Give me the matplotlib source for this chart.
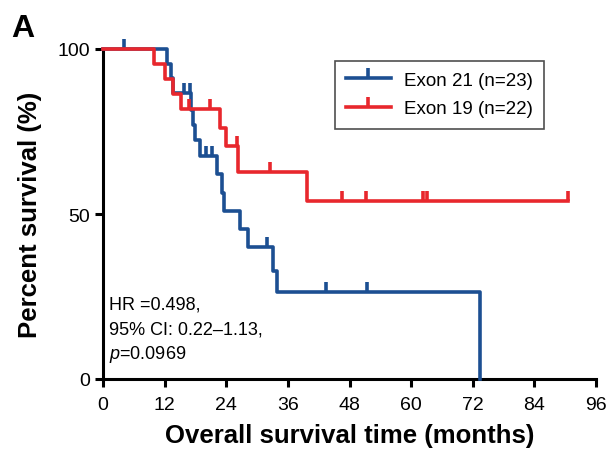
import matplotlib
matplotlib.use('Agg')
import matplotlib.pyplot as plt
from matplotlib.lines import Line2D

# Kaplan-Meier steps (months, % survival)
exon21_times = [0, 12.4, 13.2, 13.7, 17.2, 17.6, 17.9, 18.9, 22.2, 23.1, 23.6, 26.7, 28.2, 33.2, 33.8, 73.5]
exon21_surv = [100, 95.5, 91.2, 86.6, 81.5, 77.0, 72.5, 67.6, 62.1, 56.5, 50.8, 45.5, 39.9, 32.8, 26.3, 0]
exon21_cens_t = [4.1, 15.8, 16.9, 20.0, 21.2, 32.0, 43.4, 51.4]
exon21_cens_s = [100, 86.6, 86.6, 67.6, 67.6, 39.9, 26.3, 26.3]

exon19_times = [0, 10.0, 12.1, 13.6, 15.1, 22.8, 24.0, 26.3, 39.7, 90.6]
exon19_surv = [100, 95.5, 90.9, 86.4, 81.8, 76.0, 70.5, 62.7, 54.0, 54.0]
exon19_cens_t = [16.8, 20.9, 26.0, 32.5, 46.6, 51.2, 62.3, 63.0, 90.6]
exon19_cens_s = [81.8, 81.8, 70.5, 62.7, 54.0, 54.0, 54.0, 54.0, 54.0]

labels = ['Exon 21 (n=23)', 'Exon 19 (n=22)']
blue = '#1c4f92'
red = '#e8272d'

plt.rcParams['font.family'] = ['Liberation Sans', 'DejaVu Sans']
plt.rcParams['mathtext.fontset'] = 'custom'
plt.rcParams['mathtext.it'] = 'Liberation Sans:italic'
plt.rcParams['mathtext.rm'] = 'Liberation Sans'

fig = plt.figure(figsize=(6.07, 4.56), dpi=100)
ax = fig.add_axes([103/607, 76/456, 493/607, 330/456])

lw = 2.6
for t, s, ct, cs, c in [(exon21_times, exon21_surv, exon21_cens_t, exon21_cens_s, blue),
                        (exon19_times, exon19_surv, exon19_cens_t, exon19_cens_s, red)]:
    ax.step(t, s, where='post', color=c, lw=lw, clip_on=False, zorder=3)
    ax.plot(ct, cs, ls='none', marker=2, ms=7, mew=lw, color=c, clip_on=False, zorder=3)

ax.set_xlim(0, 96)
ax.set_ylim(0, 100)
ax.set_xticks(range(0, 97, 12))
ax.set_yticks([0, 50, 100])
for sp in ['top', 'right']:
    ax.spines[sp].set_visible(False)
for sp in ['left', 'bottom']:
    ax.spines[sp].set_linewidth(2.2)
ax.tick_params(width=2.2, length=5.5, labelsize=14)
ax.tick_params(axis='x', pad=7)
ax.tick_params(axis='y', pad=4)

ax.set_xlabel('Overall survival time (months)', fontsize=18.5, fontweight='bold', labelpad=7)
ax.set_ylabel('Percent survival (%)', fontsize=18.5, fontweight='bold', labelpad=11)

handles = [Line2D([], [], color=blue, lw=lw, marker=2, ms=7, mew=lw),
           Line2D([], [], color=red, lw=lw, marker=2, ms=7, mew=lw)]
leg = ax.legend(handles, labels, loc='upper left', bbox_to_anchor=(0.47, 0.965), borderaxespad=0,
                fontsize=13.5, handlelength=2.4, handletextpad=0.7, frameon=True, fancybox=False,
                borderpad=0.6, labelspacing=0.6)
leg.get_frame().set_edgecolor('#222222')
leg.get_frame().set_linewidth(1.2)

ax.text(0.012, 0.227, 'HR =0.498,', transform=ax.transAxes, fontsize=13, va='center')
ax.text(0.012, 0.152, '95% CI: 0.22\u20131.13,', transform=ax.transAxes, fontsize=13, va='center')
ax.text(0.012, 0.076, '$p$=0.0969', transform=ax.transAxes, fontsize=13, va='center')

fig.text(11/607, 1 - 29/456, 'A', fontsize=23, fontweight='bold', va='center')

fig.savefig('out.png', dpi=100)
